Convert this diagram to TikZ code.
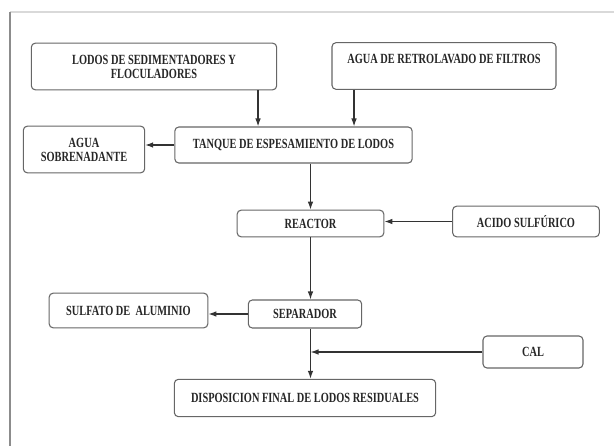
\documentclass[tikz,border=0pt]{standalone}
\usepackage{fontspec}
\setmainfont{Liberation Serif}[FakeStretch=0.74]
\usepackage{tikz}
\usetikzlibrary{calc}
\usetikzlibrary{positioning}
\usetikzlibrary {arrows.meta}
\usepackage{xcolor}

\begin{document}
\begin{tikzpicture}[x=0.75pt, y=-0.75pt,
	b/.style={rectangle, rounded corners=3pt, draw=black!60, fill=white, line width=0.8pt, inner sep=0pt, align=center, font=\fontsize{10.5}{10.5}\selectfont\bfseries, text=black!85},
	f/.style={-{Latex[length=6pt,width=4.2pt]}, draw=black!80, line width=0.9pt},
	]
	\useasboundingbox (0,0) rectangle (614,446);
	
	%Frame
	\draw[black!15, line width=0.8pt] (10,12) -- (614,12);
	\draw[black!45, line width=1.6pt] (10,12) -- (10,446);
	
	%Nodes
	\node[b, minimum width=184pt, minimum height=35pt] (lodos)  at (154,66.5)   {LODOS DE SEDIMENTADORES Y\\FLOCULADORES};
	\node[b, minimum width=168pt, minimum height=35pt] (retro)  at (444,66)     {AGUA DE RETROLAVADO DE FILTROS\\\mbox{}};
	\node[b, minimum width=178pt, minimum height=27pt] (tanque) at (293.5,145)  {TANQUE DE ESPESAMIENTO DE LODOS};
	\node[b, minimum width=91pt,  minimum height=35pt] (agua)   at (84,149.5)   {AGUA\\SOBRENADANTE};
	\node[b, minimum width=110pt, minimum height=20pt] (reactor) at (310.5,223.5) {REACTOR};
	\node[b, minimum width=110pt, minimum height=23pt] (acido)  at (526,221.5)  {ACIDO SULFÚRICO};
	\node[b, minimum width=119pt, minimum height=26pt] (sulfato) at (128.5,310.5) {SULFATO DE \ ALUMINIO};
	\node[b, minimum width=85pt,  minimum height=21pt] (separador) at (305,314) {SEPARADOR};
	\node[b, minimum width=75pt,  minimum height=24pt] (cal)    at (533,352)    {CAL};
	\node[b, minimum width=196pt, minimum height=28pt] (dispos) at (305,398)    {DISPOSICION FINAL DE LODOS RESIDUALES};
	
	%Lines
	\draw[f] ([xshift=-26.6pt]tanque.north |- lodos.south) -- ([xshift=-26.6pt]tanque.north);
	\draw[f] ([xshift=45.4pt]tanque.north |- retro.south)  -- ([xshift=45.4pt]tanque.north);
	\draw[f] (tanque.west) -- (tanque.west -| agua.east);
	\draw[f] (reactor.north |- tanque.south) -- (reactor.north);
	\draw[f] (acido.west) -- (acido.west -| reactor.east);
	\draw[f] (reactor.south) -- (reactor.south |- separador.north);
	\draw[f] (separador.west) -- (separador.west -| sulfato.east);
	\draw[f] (reactor.south |- separador.south) -- (reactor.south |- dispos.north);
	\draw[f] (cal.west) -- (cal.west -| reactor.south);
\end{tikzpicture}
\end{document}
